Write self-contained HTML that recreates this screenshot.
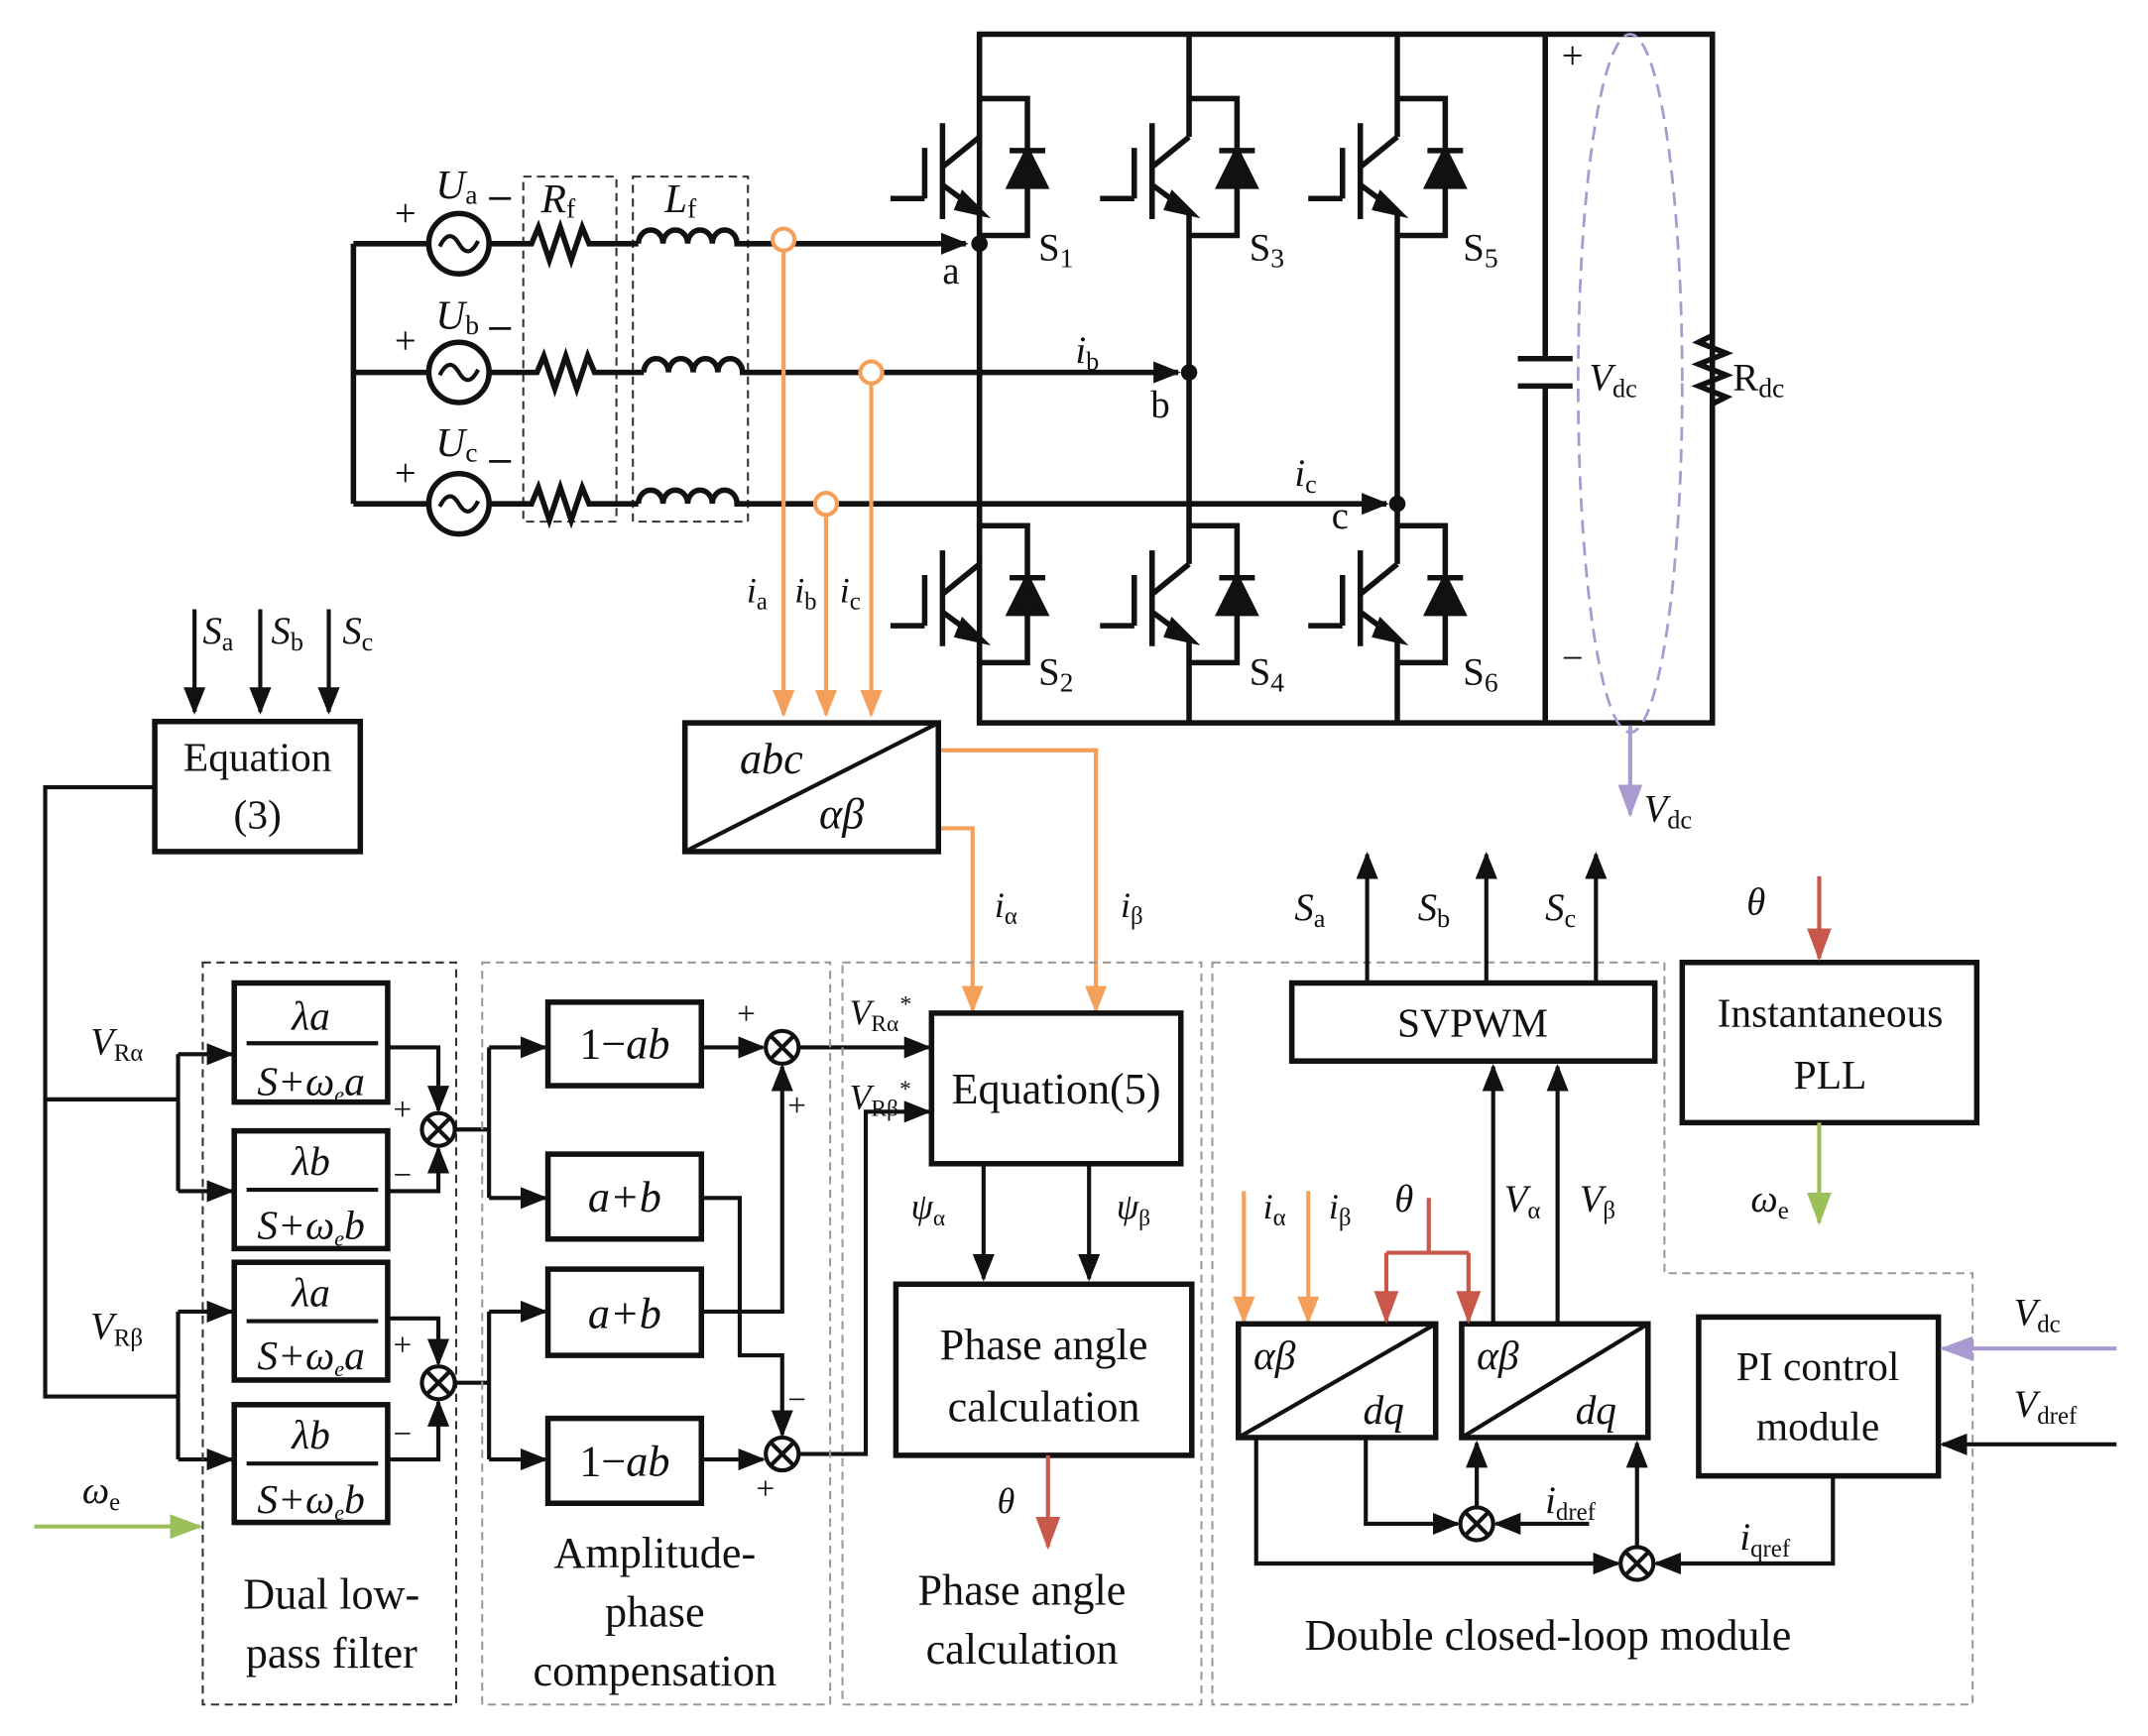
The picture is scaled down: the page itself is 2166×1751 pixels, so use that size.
<!DOCTYPE html>
<html><head><meta charset="utf-8"><style>
html,body{margin:0;padding:0;background:#fff;}
svg{display:block;}
text{font-family:"Liberation Serif",serif;fill:#111;}
</style></head><body>
<svg width="2166" height="1751" viewBox="0 0 1568 1268" preserveAspectRatio="none" xmlns="http://www.w3.org/2000/svg">
<defs>
<marker id="ak" markerWidth="20" markerHeight="16" refX="18" refY="8" orient="auto" markerUnits="userSpaceOnUse"><path d="M0,0 L20,8 L0,16 Z" fill="#111"/></marker>
<marker id="ao" markerWidth="20" markerHeight="16" refX="18" refY="8" orient="auto" markerUnits="userSpaceOnUse"><path d="M0,0 L20,8 L0,16 Z" fill="#f5a05a"/></marker>
<marker id="ar" markerWidth="24" markerHeight="18" refX="22" refY="9" orient="auto" markerUnits="userSpaceOnUse"><path d="M0,0 L24,9 L0,18 Z" fill="#c8584a"/></marker>
<marker id="ag" markerWidth="24" markerHeight="18" refX="22" refY="9" orient="auto" markerUnits="userSpaceOnUse"><path d="M0,0 L24,9 L0,18 Z" fill="#9bbf5a"/></marker>
<marker id="ap" markerWidth="24" markerHeight="18" refX="22" refY="9" orient="auto" markerUnits="userSpaceOnUse"><path d="M0,0 L24,9 L0,18 Z" fill="#a99ad0"/></marker>
<g id="sw" fill="none" stroke="#111" stroke-width="4">
<path d="M0,0 H35 V100 H0"/><path d="M22,38 H48" /><path d="M35,38 L22,64 L48,64 Z" fill="#111"/>
<path d="M-27,18 V88 M-40,36 V73 M-65,73 H-40 M-27,50 L0,28 M-27,63 L-4,80"/>
<path d="M-12,70 L2,84 L-16,80 Z" fill="#111"/>
</g>
<g id="sum"><circle r="12" fill="#fff" stroke="#111" stroke-width="3"/><path d="M-8,-8 L8,8 M8,-8 L-8,8" stroke="#111" stroke-width="3"/></g>
</defs>

<g fill="none" stroke="#333" stroke-width="1.5" stroke-dasharray="6,4">
<rect x="382" y="129" width="68" height="252"/><rect x="462" y="129" width="84" height="252"/>
</g>
<g fill="none" stroke="#111" stroke-width="4">
<path d="M258,178 V368 M258,178 H313 M258,272 H313 M258,368 H313"/>
<path d="M357,178 H388 l5,-12 l8,24 l8,-24 l8,24 l8,-24 l5,12 H466"/>
<path d="M357,272 H392 l5,-12 l8,24 l8,-24 l8,24 l8,-24 l5,12 H470"/>
<path d="M357,368 H388 l5,-12 l8,24 l8,-24 l8,24 l8,-24 l5,12 H466"/>
<path d="M466,178 a9,10 0 0 1 18,0 a9,10 0 0 1 18,0 a9,10 0 0 1 18,0 a9,10 0 0 1 18,0 H564"/>
<path d="M470,272 a9,10 0 0 1 18,0 a9,10 0 0 1 18,0 a9,10 0 0 1 18,0 a9,10 0 0 1 18,0 H628"/>
<path d="M466,368 a9,10 0 0 1 18,0 a9,10 0 0 1 18,0 a9,10 0 0 1 18,0 a9,10 0 0 1 18,0 H595"/>
<path d="M580,178 H705" marker-end="url(#ak)"/>
<path d="M644,272 H860" marker-end="url(#ak)"/>
<path d="M611,368 H1012" marker-end="url(#ak)"/>
</g>
<g fill="#fff" stroke="#111" stroke-width="4">
<circle cx="335" cy="178" r="22"/><circle cx="335" cy="272" r="22"/><circle cx="335" cy="368" r="22"/>
</g>
<g fill="none" stroke="#111" stroke-width="3">
<path d="M321,180 q7,-14 14,-2 q7,12 14,-2"/><path d="M321,274 q7,-14 14,-2 q7,12 14,-2"/><path d="M321,370 q7,-14 14,-2 q7,12 14,-2"/>
</g>
<g font-size="28"><text x="288" y="165">+</text><text x="288" y="258">+</text><text x="288" y="355">+</text></g>
<g font-size="30" font-style="italic"><text x="318" y="145">U<tspan font-size="20" font-style="normal" dy="4">a</tspan></text><text x="318" y="240">U<tspan font-size="20" font-style="normal" dy="4">b</tspan></text><text x="318" y="333">U<tspan font-size="20" font-style="normal" dy="4">c</tspan></text>
<text x="395" y="155">R<tspan font-size="20" font-style="normal" dy="4">f</tspan></text><text x="485" y="155">L<tspan font-size="20" font-style="normal" dy="4">f</tspan></text></g>
<g stroke="#111" stroke-width="2"><path d="M357,145 H373 M357,240 H373 M357,337 H373"/></g>

<g fill="none" stroke="#111" stroke-width="4">
<path d="M715,25 H1250 V528 H715 Z"/>
<path d="M1128,25 V262 M1128,282 V528 M1108,262 H1148 M1108,282 H1148"/>
<path d="M1250,25 V245 l-10,5 l20,8 l-20,8 l20,8 l-20,8 l20,8 l-10,5 V528"/>
<path d="M715,25 V100 M715,154 V412 M715,466 V528"/>
<path d="M868,25 V100 M868,154 V412 M868,466 V528"/>
<path d="M1020,25 V100 M1020,154 V412 M1020,466 V528"/>
</g>
<use href="#sw" x="715" y="72"/><use href="#sw" x="868" y="72"/><use href="#sw" x="1020" y="72"/>
<use href="#sw" x="715" y="384"/><use href="#sw" x="868" y="384"/><use href="#sw" x="1020" y="384"/>
<g fill="#111"><circle cx="715" cy="178" r="6"/><circle cx="868" cy="272" r="6"/><circle cx="1020" cy="368" r="6"/></g>
<g font-size="28"><text x="688" y="207">a</text><text x="840" y="305">b</text><text x="972" y="386">c</text>
<text x="758" y="190">S<tspan font-size="20" dy="5">1</tspan></text><text x="912" y="190">S<tspan font-size="20" dy="5">3</tspan></text><text x="1068" y="190">S<tspan font-size="20" dy="5">5</tspan></text>
<text x="758" y="500">S<tspan font-size="20" dy="5">2</tspan></text><text x="912" y="500">S<tspan font-size="20" dy="5">4</tspan></text><text x="1068" y="500">S<tspan font-size="20" dy="5">6</tspan></text>
<text x="1140" y="50">+</text><text x="1140" y="490">−</text>
<text x="1265" y="285">R<tspan font-size="20" dy="5">dc</tspan></text></g>
<g font-size="28" font-style="italic"><text x="785" y="265">i<tspan font-size="19" font-style="normal" dy="5">b</tspan></text><text x="945" y="355">i<tspan font-size="19" font-style="normal" dy="5">c</tspan></text>
<text x="1160" y="285">V<tspan font-size="19" font-style="normal" dy="5">dc</tspan></text>
<text x="1200" y="600">V<tspan font-size="19" font-style="normal" dy="5">dc</tspan></text></g>
<ellipse cx="1190" cy="280" rx="38" ry="255" fill="none" stroke="#a99ad0" stroke-width="2" stroke-dasharray="10,6"/>
<path d="M1190,530 V595" stroke="#a99ad0" stroke-width="3" marker-end="url(#ap)"/>

<g fill="none" stroke="#f5a05a" stroke-width="3">
<path d="M572,183 V522" marker-end="url(#ao)"/><path d="M636,280 V522" marker-end="url(#ao)"/><path d="M603,376 V522" marker-end="url(#ao)"/>
<circle cx="572" cy="175" r="8" fill="#fff"/><circle cx="636" cy="272" r="8" fill="#fff"/><circle cx="603" cy="368" r="8" fill="#fff"/>
<path d="M685,548 H800 V738" marker-end="url(#ao)"/><path d="M685,605 H710 V738" marker-end="url(#ao)"/>
<path d="M908,870 V965" marker-end="url(#ao)"/><path d="M955,870 V965" marker-end="url(#ao)"/>
</g>
<g font-size="26" font-style="italic"><text x="545" y="440">i<tspan font-size="18" font-style="normal" dy="5">a</tspan></text><text x="580" y="440">i<tspan font-size="18" font-style="normal" dy="5">b</tspan></text><text x="613" y="440">i<tspan font-size="18" font-style="normal" dy="5">c</tspan></text>
<text x="726" y="670">i<tspan font-size="18" font-style="normal" dy="5">α</tspan></text><text x="818" y="670">i<tspan font-size="18" font-style="normal" dy="5">β</tspan></text>
<text x="922" y="890">i<tspan font-size="18" font-style="normal" dy="5">α</tspan></text><text x="970" y="890">i<tspan font-size="18" font-style="normal" dy="5">β</tspan></text></g>

<g fill="none" stroke="#111" stroke-width="4"><rect x="500" y="528" width="185" height="94"/><path d="M500,622 L685,528" stroke-width="3"/></g>
<g font-size="32" font-style="italic"><text x="540" y="565">abc</text><text x="598" y="605">αβ</text></g>

<g fill="none" stroke="#111" stroke-width="4"><rect x="113" y="527" width="150" height="95"/></g>
<text x="188" y="563" font-size="30" text-anchor="middle">Equation</text><text x="188" y="605" font-size="30" text-anchor="middle">(3)</text>
<g fill="none" stroke="#111" stroke-width="3">
<path d="M142,445 V520" marker-end="url(#ak)"/><path d="M190,445 V520" marker-end="url(#ak)"/><path d="M240,445 V520" marker-end="url(#ak)"/>
<path d="M113,575 H33 V1020 H130 M33,803 H130 M130,770 V870 M130,958 V1066"/>
<path d="M130,770 H169" marker-end="url(#ak)"/><path d="M130,870 H169" marker-end="url(#ak)"/>
<path d="M130,958 H169" marker-end="url(#ak)"/><path d="M130,1066 H169" marker-end="url(#ak)"/>
<path d="M283,765 H320 V811" marker-end="url(#ak)"/><path d="M283,870 H320 V839" marker-end="url(#ak)"/>
<path d="M283,963 H320 V996" marker-end="url(#ak)"/><path d="M283,1066 H320 V1024" marker-end="url(#ak)"/>
<path d="M332,825 H357 M357,765 V875 M332,1010 H357 M357,958 V1066"/>
<path d="M357,765 H398" marker-end="url(#ak)"/><path d="M357,875 H398" marker-end="url(#ak)"/>
<path d="M357,958 H398" marker-end="url(#ak)"/><path d="M357,1066 H398" marker-end="url(#ak)"/>
<path d="M512,765 H557" marker-end="url(#ak)"/><path d="M512,958 H571 V779" marker-end="url(#ak)"/>
<path d="M512,875 H540 V990 H571 V1048" marker-end="url(#ak)"/><path d="M512,1066 H557" marker-end="url(#ak)"/>
<path d="M583,765 H678" marker-end="url(#ak)"/><path d="M583,1062 H632 V812 H678" marker-end="url(#ak)"/>
<path d="M718,850 V934" marker-end="url(#ak)"/><path d="M795,850 V934" marker-end="url(#ak)"/>
</g>
<g font-size="28" font-style="italic"><text x="148" y="470">S<tspan font-size="19" font-style="normal" dy="5">a</tspan></text><text x="198" y="470">S<tspan font-size="19" font-style="normal" dy="5">b</tspan></text><text x="250" y="470">S<tspan font-size="19" font-style="normal" dy="5">c</tspan></text>
<text x="66" y="770">V<tspan font-size="18" font-style="normal" dy="5">Rα</tspan></text><text x="66" y="978">V<tspan font-size="18" font-style="normal" dy="5">Rβ</tspan></text>
<text x="60" y="1098">ω<tspan font-size="18" font-style="normal" dy="5">e</tspan></text></g>
<path d="M25,1115 H146" stroke="#9bbf5a" stroke-width="3" marker-end="url(#ag)"/>

<g fill="none" stroke="#999" stroke-width="1.5" stroke-dasharray="6,4">
<rect x="148" y="703" width="185" height="542" stroke="#333"/>
<rect x="352" y="703" width="254" height="542"/>
<rect x="615" y="703" width="262" height="542"/>
<path d="M885,703 H1215 V930 H1440 V1245 H885 Z"/>
</g>

<g fill="none" stroke="#111" stroke-width="4">
<rect x="171" y="718" width="112" height="87"/><rect x="171" y="826" width="112" height="86"/>
<rect x="171" y="922" width="112" height="86"/><rect x="171" y="1026" width="112" height="86"/>
<path d="M180,762 H276 M180,869 H276 M180,965 H276 M180,1069 H276" stroke-width="3"/>
</g>
<g font-size="30" font-style="italic" text-anchor="middle">
<text x="227" y="752">λa</text><text x="227" y="800">S+ω<tspan font-size="16" dy="5">e</tspan><tspan dy="-5">a</tspan></text>
<text x="227" y="858">λb</text><text x="227" y="905">S+ω<tspan font-size="16" dy="5">e</tspan><tspan dy="-5">b</tspan></text>
<text x="227" y="954">λa</text><text x="227" y="1000">S+ω<tspan font-size="16" dy="5">e</tspan><tspan dy="-5">a</tspan></text>
<text x="227" y="1058">λb</text><text x="227" y="1105">S+ω<tspan font-size="16" dy="5">e</tspan><tspan dy="-5">b</tspan></text>
</g>
<use href="#sum" x="320" y="825"/><use href="#sum" x="320" y="1010"/>
<use href="#sum" x="571" y="765"/><use href="#sum" x="571" y="1062"/>
<g font-size="24"><text x="287" y="818">+</text><text x="287" y="866">−</text><text x="287" y="990">+</text><text x="287" y="1055">−</text>
<text x="538" y="748">+</text><text x="575" y="815">+</text><text x="575" y="1030">−</text><text x="552" y="1095">+</text></g>

<g fill="none" stroke="#111" stroke-width="4">
<rect x="400" y="732" width="112" height="61"/><rect x="400" y="843" width="112" height="62"/>
<rect x="400" y="927" width="112" height="63"/><rect x="400" y="1036" width="112" height="62"/>
</g>
<g font-size="32" text-anchor="middle"><text x="456" y="773">1−<tspan font-style="italic">ab</tspan></text><text x="456" y="885" font-style="italic">a+b</text>
<text x="456" y="970" font-style="italic">a+b</text><text x="456" y="1078">1−<tspan font-style="italic">ab</tspan></text></g>

<g fill="none" stroke="#111" stroke-width="4"><rect x="680" y="740" width="182" height="110"/><rect x="654" y="938" width="216" height="125"/></g>
<text x="771" y="806" font-size="32" text-anchor="middle">Equation(5)</text>
<text x="762" y="993" font-size="32" text-anchor="middle">Phase angle</text><text x="762" y="1038" font-size="32" text-anchor="middle">calculation</text>
<g font-size="26" font-style="italic"><text x="620" y="748">V<tspan font-size="17" font-style="normal" dy="5">Rα</tspan><tspan font-size="17" dy="-14">*</tspan></text>
<text x="620" y="810">V<tspan font-size="17" font-style="normal" dy="5">Rβ</tspan><tspan font-size="17" dy="-14">*</tspan></text>
<text x="665" y="890">ψ<tspan font-size="17" font-style="normal" dy="5">α</tspan></text><text x="815" y="890">ψ<tspan font-size="17" font-style="normal" dy="5">β</tspan></text>
<text x="728" y="1105">θ</text></g>
<path d="M765,1063 V1130" stroke="#c8584a" stroke-width="3" marker-end="url(#ar)"/>

<g font-size="32" text-anchor="middle">
<text x="242" y="1175">Dual low-</text><text x="242" y="1218">pass filter</text>
<text x="478" y="1145">Amplitude-</text><text x="478" y="1188">phase</text><text x="478" y="1231">compensation</text>
<text x="746" y="1172">Phase angle</text><text x="746" y="1215">calculation</text>
<text x="1130" y="1205">Double closed-loop module</text></g>

<g fill="none" stroke="#111" stroke-width="4">
<rect x="943" y="718" width="265" height="57"/><rect x="1228" y="703" width="215" height="117"/>
<rect x="904" y="967" width="144" height="83"/><rect x="1067" y="967" width="136" height="83"/>
<rect x="1240" y="962" width="175" height="116"/>
<path d="M904,1050 L1048,967 M1067,1050 L1203,967" stroke-width="3"/>
</g>
<text x="1075" y="757" font-size="30" text-anchor="middle">SVPWM</text>
<text x="1336" y="750" font-size="30" text-anchor="middle">Instantaneous</text><text x="1336" y="795" font-size="30" text-anchor="middle">PLL</text>
<text x="1327" y="1008" font-size="30" text-anchor="middle">PI control</text><text x="1327" y="1052" font-size="30" text-anchor="middle">module</text>
<g font-size="30" font-style="italic"><text x="915" y="1000">αβ</text><text x="995" y="1040">dq</text><text x="1078" y="1000">αβ</text><text x="1150" y="1040">dq</text></g>
<g fill="none" stroke="#111" stroke-width="3">
<path d="M998,718 V624" marker-end="url(#ak)"/><path d="M1085,718 V624" marker-end="url(#ak)"/><path d="M1165,718 V624" marker-end="url(#ak)"/>
<path d="M1090,967 V779" marker-end="url(#ak)"/><path d="M1137,967 V779" marker-end="url(#ak)"/>
<path d="M917,1050 V1142 H1181" marker-end="url(#ak)"/><path d="M997,1050 V1113 H1064" marker-end="url(#ak)"/>
<path d="M1078,1101 V1054" marker-end="url(#ak)"/><path d="M1195,1130 V1054" marker-end="url(#ak)"/>
<path d="M1160,1113 H1092" marker-end="url(#ak)"/><path d="M1338,1078 V1142 H1209" marker-end="url(#ak)"/>
<path d="M1545,1055 H1418" marker-end="url(#ak)"/>
</g>
<use href="#sum" x="1078" y="1113"/><use href="#sum" x="1195" y="1142"/>
<path d="M1545,985 H1418" stroke="#a99ad0" stroke-width="3" marker-end="url(#ap)"/>
<g fill="none" stroke="#c8584a" stroke-width="3">
<path d="M1043,875 V915 M1012,915 H1072"/><path d="M1012,915 V965" marker-end="url(#ar)"/><path d="M1072,915 V965" marker-end="url(#ar)"/>
<path d="M1328,640 V700" marker-end="url(#ar)"/></g>
<path d="M1328,820 V893" stroke="#9bbf5a" stroke-width="3" marker-end="url(#ag)"/>
<g font-size="28" font-style="italic">
<text x="945" y="672">S<tspan font-size="19" font-style="normal" dy="5">a</tspan></text><text x="1035" y="672">S<tspan font-size="19" font-style="normal" dy="5">b</tspan></text><text x="1128" y="672">S<tspan font-size="19" font-style="normal" dy="5">c</tspan></text>
<text x="1275" y="668">θ</text><text x="1018" y="885">θ</text>
<text x="1098" y="885">V<tspan font-size="18" font-style="normal" dy="5">α</tspan></text><text x="1153" y="885">V<tspan font-size="18" font-style="normal" dy="5">β</tspan></text>
<text x="1278" y="885">ω<tspan font-size="18" font-style="normal" dy="5">e</tspan></text>
<text x="1470" y="968">V<tspan font-size="18" font-style="normal" dy="5">dc</tspan></text><text x="1470" y="1035">V<tspan font-size="18" font-style="normal" dy="5">dref</tspan></text>
<text x="1128" y="1105">i<tspan font-size="18" font-style="normal" dy="5">dref</tspan></text><text x="1270" y="1132">i<tspan font-size="18" font-style="normal" dy="5">qref</tspan></text>
</g>
</svg>
</body></html>
